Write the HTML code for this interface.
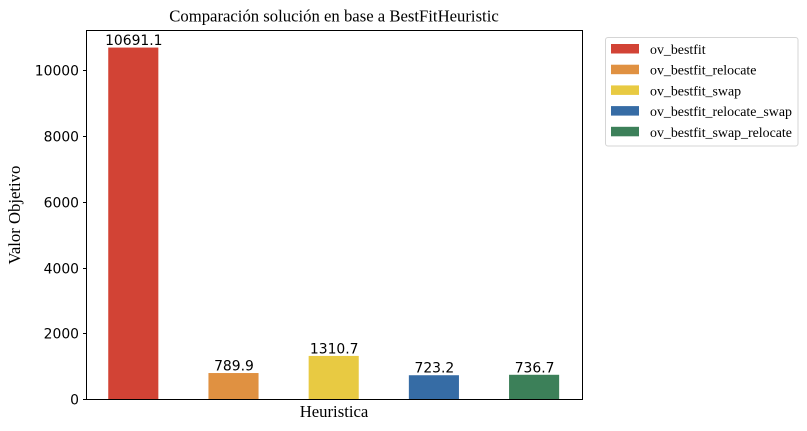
<!DOCTYPE html>
<html lang="es">
<head>
<meta charset="utf-8">
<title>Comparación solución en base a BestFitHeuristic</title>
<style>
html,body{margin:0;padding:0;background:#fff;width:807px;height:431px;overflow:hidden}
svg{display:block}
.serif{font-family:"Liberation Serif",serif;fill:#000}
.sans{font-family:"DejaVu Sans",sans-serif;fill:#000}
</style>
</head>
<body>
<svg id="chart" xmlns="http://www.w3.org/2000/svg" width="807" height="431" viewBox="0 0 807 431">
<text class="serif" x="334" y="21.5" font-size="16.7px" text-anchor="middle">Comparación solución en base a BestFitHeuristic</text>
<text class="serif" x="334" y="417" font-size="16.7px" text-anchor="middle">Heuristica</text>
<text class="serif" transform="translate(20 215) rotate(-90)" font-size="16.7px" text-anchor="middle">Valor Objetivo</text>
<g id="ticks"></g>
<g id="bars"></g>
<g id="labels"></g>
<rect x="86.5" y="30.5" width="496" height="369" fill="none" stroke="#000" stroke-width="1"></rect>
<g>
<rect x="605.5" y="37.5" width="192.5" height="108.5" rx="2.5" fill="#fff" stroke="#d5d5d5" stroke-width="1"></rect>
<g id="legend-items"></g>
</g>
</svg>
<script>
const categories = ["ov_bestfit", "ov_bestfit_relocate", "ov_bestfit_swap", "ov_bestfit_relocate_swap", "ov_bestfit_swap_relocate"];
const values = [10691.1, 789.9, 1310.7, 723.2, 736.7];
const colors = ["#d24335", "#e09141", "#e8ca42", "#366ca5", "#3c8059"];
const yTicks = [0, 2000, 4000, 6000, 8000, 10000];

const NS = "http://www.w3.org/2000/svg";
const frameLeft = 86.5;
const tickOffset = 0.5;
const labelOffset = 0.5;
const plot = { left: 85.7, right: 581.7, top: 30, bottom: 399 };
const yMax = Math.max.apply(null, values) * 1.05;
const barWidthUnits = 0.5;
const xMin = -barWidthUnits / 2 - 0.05 * (categories.length - 1 + barWidthUnits);
const xMax = categories.length - 1 + barWidthUnits / 2 + 0.05 * (categories.length - 1 + barWidthUnits);

function xScale(i) {
  return plot.left + (i - xMin) / (xMax - xMin) * (plot.right - plot.left);
}
function yScale(v) {
  return plot.bottom - v / yMax * (plot.bottom - plot.top);
}
function make(tag, attrs, text) {
  const el = document.createElementNS(NS, tag);
  Object.keys(attrs).forEach(function (k) { el.setAttribute(k, attrs[k]); });
  if (text !== undefined) el.textContent = text;
  return el;
}

const ticksGroup = document.getElementById("ticks");
yTicks.forEach(function (t) {
  const y = Math.round(yScale(t) + tickOffset - 0.5) + 0.5;
  const line = make("line", { x1: frameLeft - 3.5, x2: frameLeft, y1: y, y2: y, stroke: "#000", "stroke-width": 1 });
  
  
  ticksGroup.appendChild(line);
  const label = make("text", { x: frameLeft - 7.5, y: y + 5, "text-anchor": "end", "font-size": "13.9px", class: "sans" }, String(t));
  
  
  ticksGroup.appendChild(label);
});

const barsGroup = document.getElementById("bars");
const labelsGroup = document.getElementById("labels");
const barPx = barWidthUnits / (xMax - xMin) * (plot.right - plot.left);
values.forEach(function (v, i) {
  const cx = xScale(i);
  const top = yScale(v);
  const bar = make("rect", { x: cx - barPx / 2, y: top, width: barPx, height: plot.bottom - top + 0.5, fill: colors[i] });
  
  
  barsGroup.appendChild(bar);
  const label = make("text", { x: cx + labelOffset, y: top - 2.5, "text-anchor": "middle", "font-size": "13.9px", class: "sans" }, v.toFixed(1));
  
  
  labelsGroup.appendChild(label);
});

const legendGroup = document.getElementById("legend-items");
categories.forEach(function (c, i) {
  const y = 44 + i * 20.7;
  const swatch = make("rect", { x: 611, y: y, width: 28, height: 9.5, fill: colors[i] });
  
  
  legendGroup.appendChild(swatch);
  const label = make("text", { x: 650, y: y + 10, "font-size": "13.9px", class: "serif" }, c);
  
  
  legendGroup.appendChild(label);
});
</script>
</body>
</html>
